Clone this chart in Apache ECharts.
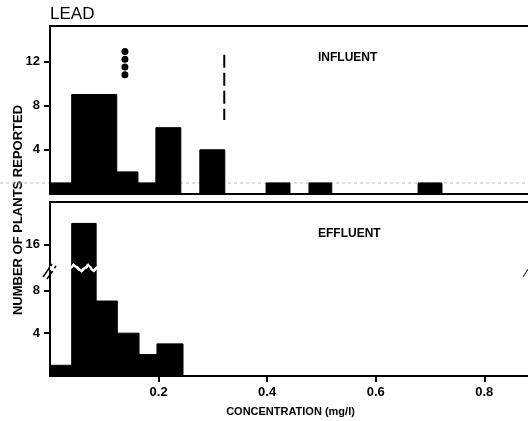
<!DOCTYPE html>
<html>
<head>
<meta charset="utf-8">
<script src="https://cdn.jsdelivr.net/npm/echarts@6.0.0/dist/echarts.min.js"></script>
<style>
  html, body { margin: 0; padding: 0; background: #fff; }
  #chart { width: 528px; height: 421px; }
</style>
</head>
<body>
<div id="chart"></div>
<script>
// influent histogram (bin edges in mg/l, counts)
const inflStart = [0, 0.04, 0.123, 0.162, 0.195, 0.276, 0.398, 0.477, 0.678]
const inflEnd = [0.04, 0.123, 0.162, 0.195, 0.241, 0.322, 0.442, 0.519, 0.722]
const inflCount = [1, 9, 2, 1, 6, 4, 1, 1, 1]

// effluent histogram
const effStart = [0, 0.04, 0.085, 0.124, 0.164, 0.197]
const effEnd = [0.04, 0.085, 0.124, 0.164, 0.197, 0.245]
const effCount = [1, 18, 7, 4, 2, 3]

// dots above the influent bars and the dashed marker
const dotX = [0.138, 0.138, 0.138, 0.138]
const dotY = [12.9, 12.2, 11.5, 10.8]
const dashX = [0.321, 0.321]
const dashY = [12.6, 6.7]

const xTicks = [0.2, 0.4, 0.6, 0.8]
const inflTicks = [4, 8, 12]
const effTicks = [4, 8, 16]

const FONT = 'Liberation Sans'
const chart = echarts.init(document.getElementById('chart'))

const binRender = (params, api) => {
  const top = api.coord([api.value(0), api.value(2)])
  const base = api.coord([api.value(1), 0])
  return {
    type: 'rect',
    shape: { x: top[0], y: top[1], width: base[0] - top[0], height: base[1] - top[1] },
    style: { fill: '#000', stroke: '#000', lineWidth: 1 }
  }
}

const yAxisBase = (ticks) => ({
  min: 0,
  axisLine: { show: true, lineStyle: { color: '#000', width: 2 } },
  axisTick: { show: true, length: 6, inside: false, customValues: ticks, lineStyle: { color: '#000', width: 2 } },
  axisLabel: { customValues: ticks, margin: 10, color: '#000', fontFamily: FONT, fontWeight: 'bold', fontSize: 13 },
  splitLine: { show: false }
})

chart.setOption({
  animation: false,
  grid: [
    { left: 50, width: 481, top: 26, height: 168, outerBoundsMode: 'none', show: true, borderColor: '#000', borderWidth: 2 },
    { left: 50, width: 481, top: 202, height: 174, outerBoundsMode: 'none', show: true, borderColor: '#000', borderWidth: 2 }
  ],
  xAxis: [
    {
      gridIndex: 0, type: 'value', min: 0, max: 0.886,
      axisLine: { show: true, lineStyle: { color: '#000', width: 2 } },
      axisTick: { show: false }, axisLabel: { show: false }, splitLine: { show: false }
    },
    {
      gridIndex: 1, type: 'value', min: 0, max: 0.886,
      axisLine: { show: true, lineStyle: { color: '#000', width: 2 } },
      axisTick: { show: true, length: 6, customValues: xTicks, lineStyle: { color: '#000', width: 2 } },
      axisLabel: { customValues: xTicks, margin: 10, color: '#000', fontFamily: FONT, fontWeight: 'bold', fontSize: 13,
        formatter: v => v.toFixed(1) },
      splitLine: { show: false },
      name: 'CONCENTRATION (mg/l)', nameLocation: 'middle', nameGap: 30,
      nameTextStyle: { color: '#000', fontFamily: FONT, fontWeight: 'bold', fontSize: 11 }
    }
  ],
  yAxis: [
    Object.assign({ gridIndex: 0, type: 'value', max: 15.2 }, yAxisBase(inflTicks)),
    Object.assign({
      gridIndex: 1, type: 'value', max: 20,
      breaks: [{ start: 10, end: 14, gap: 0.25 }],
      breakArea: {
        show: true,
        itemStyle: { color: '#fff', borderColor: '#fff', borderWidth: 1, opacity: 1 },
        zigzagAmplitude: 3, zigzagMinSpan: 5, zigzagMaxSpan: 8, expandOnClick: false
      }
    }, yAxisBase(effTicks))
  ],
  graphic: [
    { type: 'text', left: 50, top: 6, style: { text: 'LEAD', fill: '#000', font: '17px "Liberation Sans"' } },
    { type: 'text', x: 318, y: 52, style: { text: 'INFLUENT', fill: '#000', font: 'bold 12px "Liberation Sans"' } },
    { type: 'text', x: 318, y: 228, style: { text: 'EFFLUENT', fill: '#000', font: 'bold 12px "Liberation Sans"' } },
    { type: 'text', x: 18, y: 210, rotation: Math.PI / 2,
      style: { text: 'NUMBER OF PLANTS REPORTED', fill: '#000', font: 'bold 13px "Liberation Sans"', align: 'center', verticalAlign: 'middle' } },
    { type: 'line', shape: { x1: 0, y1: 183, x2: 528, y2: 183 }, style: { stroke: '#bbb', lineWidth: 1, lineDash: [3, 3] }, z: 0 },
    { type: 'line', shape: { x1: 43, y1: 277, x2: 52, y2: 264 }, style: { stroke: '#000', lineWidth: 1.5 } },
    { type: 'line', shape: { x1: 47, y1: 279, x2: 56, y2: 266 }, style: { stroke: '#000', lineWidth: 1.5 } },
    { type: 'line', shape: { x1: 523, y1: 277, x2: 528, y2: 269 }, style: { stroke: '#444', lineWidth: 1.2 } }
  ],
  series: [
    {
      type: 'custom', xAxisIndex: 0, yAxisIndex: 0, renderItem: binRender,
      encode: { x: [0, 1], y: 2 },
      data: inflStart.map((s, i) => [s, inflEnd[i], inflCount[i]])
    },
    {
      type: 'custom', xAxisIndex: 1, yAxisIndex: 1, renderItem: binRender,
      encode: { x: [0, 1], y: 2 },
      data: effStart.map((s, i) => [s, effEnd[i], effCount[i]])
    },
    {
      type: 'scatter', xAxisIndex: 0, yAxisIndex: 0, symbolSize: 7,
      itemStyle: { color: '#000', opacity: 1 },
      data: dotX.map((x, i) => [x, dotY[i]])
    },
    {
      type: 'line', xAxisIndex: 0, yAxisIndex: 0, symbol: 'none',
      lineStyle: { color: '#000', width: 2, type: [13, 5] },
      data: dashX.map((x, i) => [x, dashY[i]])
    }
  ]
})
</script>
</body>
</html>
